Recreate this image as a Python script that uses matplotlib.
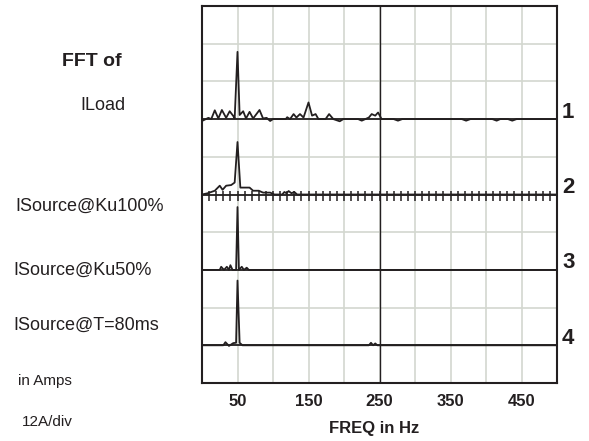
import numpy as np
import matplotlib
matplotlib.use("Agg")
import matplotlib.pyplot as plt

plt.rcParams['font.family'] = ['Liberation Sans', 'DejaVu Sans']

# amplitude scale and trace offsets (in divisions from the bottom)
amps_per_div = 12
trace_offsets = [7, 5, 3, 1]
trace_numbers = ['1', '2', '3', '4']
trace_names = ['ILoad', 'ISource@Ku100%', 'ISource@Ku50%', 'ISource@T=80ms']

# spectra in amps, read at the plotted frequency points (Hz)
iload_f = [0, 9, 13, 18, 23, 28, 34, 39, 44, 46, 50, 53, 58, 62, 67, 72, 81, 86, 91, 96,
           100, 118, 120, 124, 129, 133, 138, 143, 150, 155, 160, 164, 174, 179, 185, 194,
           199, 220, 225, 230, 235, 239, 244, 248, 253, 270, 276, 282, 366, 372, 378, 409,
           415, 420, 431, 437, 443, 500]
iload_a = [-0.6, 0.4, 0.0, 2.8, 0.2, 2.9, 0.4, 2.5, 1.0, 0.2, 21.4, 1.3, 2.5, 0.2, 2.3, 0.2,
           2.9, 0.2, 0.4, -0.6, 0.0, 0.0, 0.6, 0.0, 1.6, 0.5, 1.6, 0.5, 5.3, 1.1, 1.6, 0.0,
           0.0, 1.6, 0.0, -0.7, 0.0, 0.0, -0.5, 0.0, 0.5, 1.6, 1.1, 2.1, 0.0, 0.0, -0.5,
           0.0, 0.0, -0.5, 0.0, 0.0, -0.5, 0.0, 0.0, -0.5, 0.0, 0.0]

ku100_f = [0, 8, 18, 25, 29, 34, 41, 46, 50, 54, 67, 72, 80, 86, 96, 102, 113, 116, 119,
           122, 126, 130, 134, 500]
ku100_a = [0.0, 0.4, 1.2, 2.8, 1.5, 2.8, 3.0, 3.8, 16.7, 2.2, 2.2, 1.2, 1.2, 0.6, 0.6, 0.0,
           0.0, 0.8, 0.4, 1.1, 0.4, 0.8, 0.0, 0.0]

ku50_f = [0, 25, 27, 31, 35, 38, 40, 43, 48, 50, 52, 56, 59, 63, 66, 500]
ku50_a = [0.0, 0.0, 1.0, 0.0, 1.0, 0.0, 1.5, 0.0, 0.0, 20.0, 0.0, 1.0, 0.0, 0.7, 0.0, 0.0]

t80_f = [0, 30, 33, 38, 44, 48, 50, 53, 57, 235, 238, 241, 244, 247, 500]
t80_a = [0.0, 0.0, 1.0, -0.2, 0.7, 0.8, 20.6, 0.8, 0.0, 0.0, 0.8, 0.0, 0.6, 0.0, 0.0]

freq_ticks = [50, 150, 250, 350, 450]

traces = [(iload_f, iload_a), (ku100_f, ku100_a), (ku50_f, ku50_a), (t80_f, t80_a)]

W, H = 589, 441
fig = plt.figure(figsize=(W / 100, H / 100), dpi=100)
ax = fig.add_axes([202 / W, 1 - 383 / H, (557 - 202) / W, (383 - 6) / H])
ax.set_xlim(0, 500)
ax.set_ylim(0, 10)

# scope grid
for x in np.arange(50, 500, 50):
    ax.axvline(x, color='#d3d7cf', lw=1.2, zorder=1)
for y in np.arange(1, 10):
    ax.axhline(y, color='#d3d7cf', lw=1.2, zorder=1)
ax.axvline(250, color='#231f20', lw=1.0, zorder=2)

for (f, a), off in zip(traces, trace_offsets):
    ax.axhline(off, color='#231f20', lw=1.3, zorder=2)
    ax.plot(f, off + np.array(a) / amps_per_div, color='#231f20', lw=1.3, zorder=3)

# minor tick marks on trace 2 baseline
tick_x = np.arange(10, 500, 10)
ax.vlines(tick_x, trace_offsets[1] - 0.17, trace_offsets[1] + 0.09, color='#231f20',
          lw=1.1, zorder=3)

for s in ax.spines.values():
    s.set_color('#231f20')
    s.set_linewidth(1.5)
ax.set_yticks([])
ax.set_xticks(freq_ticks)
ax.set_xticklabels([str(v) for v in freq_ticks], fontsize=12, fontweight='bold',
                   color='#231f20')
ax.tick_params(axis='x', length=0, pad=8)

# trace numbers on the right
for num, off in zip(trace_numbers, trace_offsets):
    y_px = 383 - off * 37.7 - 7
    fig.text(562 / W, 1 - y_px / H, num, fontsize=16, fontweight='bold',
             color='#231f20', va='center', ha='left')

# labels on the left
fig.text(92 / W, 1 - 61 / H, 'FFT of', fontsize=14, fontweight='bold',
         color='#231f20', ha='center', va='center')
name_pos = [(80, 105), (15, 206), (13, 270), (13, 325)]
for name, (x, y) in zip(trace_names, name_pos):
    fig.text(x / W, 1 - y / H, name, fontsize=13, color='#231f20', ha='left', va='center')
fig.text(18 / W, 1 - 381 / H, 'in Amps', fontsize=11, color='#231f20', ha='left', va='center')
fig.text(22 / W, 1 - 422 / H, '12A/div', fontsize=11, color='#231f20', ha='left', va='center')
fig.text(374 / W, 1 - 428 / H, 'FREQ in Hz', fontsize=12, fontweight='bold',
         color='#231f20', ha='center', va='center')

fig.savefig('out.png', dpi=100)
